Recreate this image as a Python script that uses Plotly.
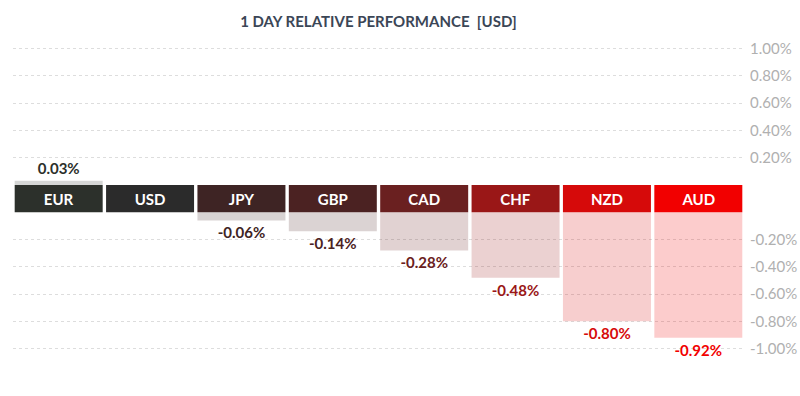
import plotly.graph_objects as go

# ---- data ----
categories = ["EUR", "USD", "JPY", "GBP", "CAD", "CHF", "NZD", "AUD"]
values = [0.03, 0.00, -0.06, -0.14, -0.28, -0.48, -0.80, -0.92]
band_colors = ["#2c302b", "#2b2b2b", "#3e2424", "#4b2222", "#6a2020", "#9a1717", "#d60a0a", "#f20000"]
tick_values = [1.0, 0.8, 0.6, 0.4, 0.2, -0.2, -0.4, -0.6, -0.8, -1.0]
tick_labels = ["1.00%", "0.80%", "0.60%", "0.40%", "0.20%",
               "-0.20%", "-0.40%", "-0.60%", "-0.80%", "-1.00%"]
title_text = "1 DAY RELATIVE PERFORMANCE  [USD]"

BAND = 0.2  # height of the header band in axis units


def hex_to_rgba(h, a):
    h = h.lstrip("#")
    r, g, b = int(h[0:2], 16), int(h[2:4], 16), int(h[4:6], 16)
    return f"rgba({r},{g},{b},{a})"


def shift(v):
    return v if v >= 0 else v - BAND


bases = [0 if v >= 0 else -BAND for v in values]
light_colors = [hex_to_rgba(c, 0.2) for c in band_colors]
value_text = [("" if v == 0 else f"{v:.2f}%") for v in values]

fig = go.Figure()

# value bars
fig.add_trace(go.Bar(
    x=categories, y=values, base=bases,
    marker=dict(color=light_colors, line=dict(width=0)),
    text=value_text, textposition="outside",
    textfont=dict(family="Lato", size=17, color=band_colors, weight="bold"),
    cliponaxis=False, hoverinfo="skip",
))

# header band with currency names
fig.add_trace(go.Bar(
    x=categories, y=[BAND] * len(categories), base=[-BAND] * len(categories),
    marker=dict(color=band_colors, line=dict(width=0)),
    text=categories, textposition="inside", insidetextanchor="middle",
    textfont=dict(family="Lato", size=15, color="white", weight="bold"),
    constraintext="none", hoverinfo="skip",
))

fig.update_layout(
    width=800, height=396,
    margin=dict(l=13, r=56, t=35, b=27, autoexpand=False),
    paper_bgcolor="white", plot_bgcolor="white",
    showlegend=False, barmode="overlay", bargap=0.037,
    uniformtext=dict(minsize=14, mode="show"),
    title=dict(text=title_text, x=0.473, xanchor="center", y=1 - 22 / 396, yanchor="middle",
               font=dict(family="Lato", size=15, color="#3b4656", weight="bold")),
    xaxis=dict(visible=False, range=[-0.5, len(categories) - 0.5], automargin=False),
    yaxis=dict(
        side="right", range=[-1.35, 1.1], automargin=False,
        tickvals=[shift(t) for t in tick_values], ticktext=tick_labels,
        tickfont=dict(family="Lato", size=15, color="#b0b0b0"),
        showgrid=True, gridcolor="#dddddd", griddash="dot", gridwidth=1,
        zeroline=False, showline=False, ticks="", ticklabelstandoff=5,
        fixedrange=True,
    ),
)

fig.write_html(
    "out.html",
    config={"displayModeBar": False, "staticPlot": True},
    post_script="document.body.style.margin='0';document.body.style.overflow='hidden';",
)
